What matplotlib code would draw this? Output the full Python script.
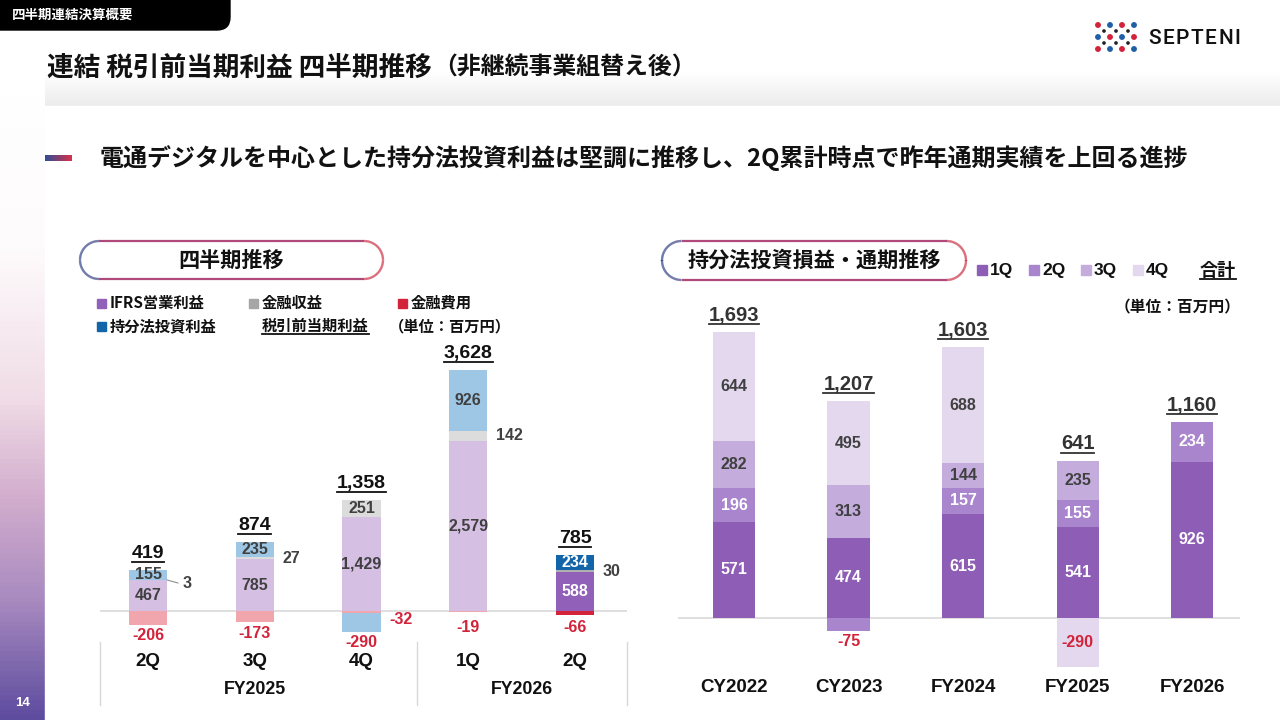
import numpy as np
import matplotlib
matplotlib.use('Agg')
import matplotlib.pyplot as plt
import matplotlib.colors as mcolors
from matplotlib.collections import LineCollection
from matplotlib.patches import Rectangle, FancyBboxPatch

JP = ['Noto Sans CJK JP', 'DejaVu Sans']
NUM = ['Liberation Sans', 'DejaVu Sans']

# ---------------- data ----------------
quarters = ['2Q', '3Q', '4Q', '1Q', '2Q']
fiscal_groups = ['FY2025', 'FY2026']
op_profit = [467, 785, 1429, 2579, 588]        # IFRS営業利益
fin_income = [3, 27, 251, 142, 30]             # 金融収益
equity_income = [155, 235, -290, 926, 234]     # 持分法投資利益
fin_cost = [-206, -173, -32, -19, -66]         # 金融費用
pretax_total = [419, 874, 1358, 3628, 785]     # 税引前当期利益

years = ['CY2022', 'CY2023', 'FY2024', 'FY2025', 'FY2026']
eq_1q = [571, 474, 615, 541, 926]
eq_2q = [196, -75, 157, 155, 234]
eq_3q = [282, 313, 144, 235, None]
eq_4q = [644, 495, 688, -290, None]
eq_total = [1693, 1207, 1603, 641, 1160]

DARK = '#404040'
RED = '#D2233B'
LBL = 11.5

fig = plt.figure(figsize=(12.8, 7.2), dpi=100)
bg = fig.add_axes([0, 0, 1, 1])
bg.axis('off')
bg.set_xlim(0, 1280)
bg.set_ylim(720, 0)
bg.set_autoscale_on(False)

# background
bg.add_patch(Rectangle((0, 0), 1280, 720, color='white', zorder=0))
grad = np.linspace(0, 1, 128).reshape(-1, 1)
cm_top = mcolors.LinearSegmentedColormap.from_list('t', ['#FFFFFF', '#ECECEC'])
bg.imshow(grad, extent=(45, 1280, 106, 72), cmap=cm_top, aspect='auto', zorder=1)
cm_left = mcolors.LinearSegmentedColormap.from_list(
    'l', [(0, '#FFFFFF'), (0.25, '#FEFBFC'), (0.49, '#F0DCE6'), (0.65, '#D2ADCD'),
          (0.81, '#A98BC0'), (1.0, '#5E4C9F')])
bg.imshow(grad, extent=(0, 45, 720, 90), cmap=cm_left, aspect='auto', zorder=1)
bg.add_patch(Rectangle((45, 106), 1235, 614, color='white', zorder=2))

# top tab
bg.add_patch(FancyBboxPatch((-30, -30), 260, 60, boxstyle='round,pad=0,rounding_size=13',
                            color='black', zorder=3))
bg.text(12, 15, '四半期連結決算概要', color='white', fontsize=9.7, fontweight='bold',
        family=JP, va='center', ha='left', zorder=4)

# title
t1 = bg.text(47, 68, '連結 税引前当期利益 四半期推移', fontsize=19.2, fontweight='bold',
             family=JP, va='center', ha='left', zorder=4, color='#111111')
fig.canvas.draw()
bb = t1.get_window_extent()
bg.text(bb.x1 + 1, 68, '（非継続事業組替え後）', fontsize=17.2, fontweight='bold',
        family=JP, va='center', ha='left', zorder=4, color='#111111')

# logo
dot_rows = [(25, ['#D2233B', '#1F5FA8', '#D2233B', '#1F5FA8'], [1098, 1110, 1122, 1134], 18),
            (31, ['#222222'] * 3, [1104, 1116, 1128], 7),
            (37, ['#1F5FA8', '#D2233B', '#1F5FA8', '#D2233B'], [1098, 1110, 1122, 1134], 18),
            (43, ['#222222'] * 3, [1104, 1116, 1128], 7),
            (49, ['#D2233B', '#1F5FA8', '#D2233B', '#1F5FA8'], [1098, 1110, 1122, 1134], 18)]
for yy, cols, xs, s in dot_rows:
    bg.scatter(xs, [yy] * len(xs), c=cols, s=s, zorder=5, linewidths=0)
renderer = fig.canvas.get_renderer()
cx = 1148.0
for ch in 'SEPTENI':
    tt = bg.text(cx, 38, ch, fontsize=15, family=['Roboto', 'DejaVu Sans'],
                 fontweight='medium', va='center', ha='left', zorder=5, color='#111111')
    cx += tt.get_window_extent(renderer).width + 1.6

# subheading
cm_bar = mcolors.LinearSegmentedColormap.from_list('b', ['#2F4F96', '#D8304A'])
bg.imshow(np.linspace(0, 1, 64).reshape(1, -1), extent=(45, 72, 161, 155), cmap=cm_bar,
          aspect='auto', zorder=4)
bg.text(100, 158, '電通デジタルを中心とした持分法投資利益は堅調に推移し、2Q累計時点で昨年通期実績を上回る進捗',
        fontsize=17.3, fontweight='bold', family=JP, va='center', ha='left', zorder=4,
        color='#111111')

# pills
cm_pill = mcolors.LinearSegmentedColormap.from_list('p', ['#33458A', '#B04A7A', '#D03345'])


def pill(x0, y0, x1, y1, label):
    r = (y1 - y0) / 2
    bg.add_patch(FancyBboxPatch((x0, y0), x1 - x0, y1 - y0,
                                boxstyle='round,pad=0,rounding_size=%f' % r,
                                facecolor='white', edgecolor='none', zorder=4))
    pts = []
    n = 200
    for t in np.linspace(-np.pi / 2, np.pi / 2, n):  # right arc
        pts.append((x1 - r + r * np.cos(t), (y0 + y1) / 2 + r * np.sin(t)))
    for t in np.linspace(np.pi / 2, 3 * np.pi / 2, n):  # left arc
        pts.append((x0 + r + r * np.cos(t), (y0 + y1) / 2 + r * np.sin(t)))
    pts.append(pts[0])
    pts = np.array(pts)
    segs = np.stack([pts[:-1], pts[1:]], axis=1)
    xm = (segs[:, 0, 0] + segs[:, 1, 0]) / 2
    cols = cm_pill((xm - x0) / (x1 - x0))
    bg.add_collection(LineCollection(segs, colors=cols, linewidths=1.6, zorder=5))
    bg.text((x0 + x1) / 2, (y0 + y1) / 2, label, fontsize=15.2, fontweight='bold',
            family=JP, va='center', ha='center', zorder=6, color='#111111')


pill(80, 241, 383, 279, '四半期推移')
pill(662, 241, 966, 280, '持分法投資損益・通期推移')

# left legend
legL = [(101, 303, '#9160B8', 'IFRS営業利益'), (253, 303, '#A6A6A6', '金融収益'),
        (402, 303, RED, '金融費用'), (101, 326, '#1265A8', '持分法投資利益')]
for x, y, c, lab in legL:
    bg.add_patch(Rectangle((x - 4.5, y - 4.5), 9, 9, color=c, zorder=5))
    bg.text(x + 9, y, lab, fontsize=11, fontweight='bold', family=JP, va='center',
            ha='left', zorder=5, color='#111111')
ul_texts = []
ul_texts.append(bg.text(262, 326, '税引前当期利益', fontsize=11, fontweight='bold', family=JP,
                        va='center', ha='left', zorder=5, color='#111111'))
bg.text(389, 326, '（単位：百万円）', fontsize=11, fontweight='bold', family=JP,
        va='center', ha='left', zorder=5, color='#111111')

# right legend
qcols = ['#8E5DB5', '#A985CD', '#C4ADDC', '#E4D8EF']
for i, (x, lab) in enumerate(zip([982, 1034, 1086, 1138], ['1Q', '2Q', '3Q', '4Q'])):
    bg.add_patch(Rectangle((x - 5, 265), 10, 10, color=qcols[i], zorder=5))
    bg.text(x + 8, 270, lab, fontsize=12.5, fontweight='bold', family=NUM, va='center',
            ha='left', zorder=5, color='#111111')
ul_texts.append(bg.text(1218, 270, '合計', fontsize=13, fontweight='bold', family=JP,
                        va='center', ha='center', zorder=5, color='#111111'))
bg.text(1241, 307, '（単位：百万円）', fontsize=11.3, fontweight='bold', family=JP,
        va='center', ha='right', zorder=5, color='#111111')

bg.text(23, 703, '14', fontsize=9.5, fontweight='bold', family=NUM, color='white',
        va='center', ha='center', zorder=5)

# ---------------- left chart ----------------
S_L = 0.0661
BASE_L = 611
axL = fig.add_axes([100 / 1280, 1 - 710 / 720, 527 / 1280, 420 / 720])
axL.patch.set_alpha(0)
axL.set_xlim(-0.45, 4.487)
axL.set_ylim(-(710 - BASE_L) / S_L, (BASE_L - 290) / S_L)
axL.axis('off')


def ly(py):
    return (BASE_L - py) / S_L


def lx(px):
    return -0.45 + (px - 100) / 527 * 4.937


wL = 0.36
pale = {'op': '#D5C0E3', 'inc': '#DCDCDC', 'eq': '#9DC7E4', 'cost': '#F1A6AE'}
strong = {'op': '#9160B8', 'inc': '#B0B0B0', 'eq': '#1265A8', 'cost': RED}
x_l = np.arange(len(quarters))
axL.axhline(0, color='#D9D9D9', lw=1.2, zorder=1)
for i in range(len(quarters)):
    hl = (i == len(quarters) - 1)
    C = strong if hl else pale
    tc = 'white' if hl else DARK
    xi = x_l[i]
    pos = 0
    axL.bar(xi, op_profit[i], wL, bottom=pos, color=C['op'], zorder=2)
    axL.text(xi, pos + op_profit[i] / 2, f'{op_profit[i]:,}', ha='center', va='center',
             fontsize=LBL, fontweight='bold', family=NUM, color=tc, zorder=4)
    pos += op_profit[i]
    axL.bar(xi, fin_income[i], wL, bottom=pos, color=C['inc'], zorder=2)
    mid = pos + fin_income[i] / 2
    if fin_income[i] * S_L >= 12:
        axL.text(xi, mid, f'{fin_income[i]:,}', ha='center', va='center', fontsize=LBL,
                 fontweight='bold', family=NUM, color=DARK, zorder=4)
    elif fin_income[i] * S_L < 1:
        axL.plot([xi + wL / 2, xi + wL / 2 + 0.1], [mid, ly(583)], color='#909090', lw=0.8,
                 zorder=3)
        axL.text(xi + wL / 2 + 0.14, ly(583), f'{fin_income[i]:,}', ha='left', va='center',
                 fontsize=LBL, fontweight='bold', family=NUM, color=DARK, zorder=4)
    else:
        axL.text(xi + wL / 2 + 0.08, mid, f'{fin_income[i]:,}', ha='left', va='center',
                 fontsize=LBL, fontweight='bold', family=NUM, color=DARK, zorder=4)
    pos += fin_income[i]
    neg = 0
    axL.bar(xi, fin_cost[i], wL, bottom=neg, color=C['cost'], zorder=2)
    neg += fin_cost[i]
    if equity_income[i] > 0:
        axL.bar(xi, equity_income[i], wL, bottom=pos, color=C['eq'], zorder=2)
        axL.text(xi, pos + equity_income[i] / 2, f'{equity_income[i]:,}', ha='center',
                 va='center', fontsize=LBL, fontweight='bold', family=NUM,
                 color='white' if hl else DARK, zorder=4)
        pos += equity_income[i]
        ybot_px = BASE_L - neg * S_L
        axL.text(xi, ly(max(ybot_px + 11, 627)), f'{fin_cost[i]:,}', ha='center',
                 va='center', fontsize=LBL, fontweight='bold', family=NUM, color=RED, zorder=4)
    else:
        axL.bar(xi, equity_income[i], wL, bottom=neg, color=C['eq'], zorder=2)
        neg += equity_income[i]
        axL.text(xi + wL / 2 + 0.08, ly(BASE_L + 9), f'{fin_cost[i]:,}', ha='left',
                 va='center', fontsize=LBL, fontweight='bold', family=NUM, color=RED, zorder=4)
        ybot_px = BASE_L - neg * S_L
        axL.text(xi, ly(ybot_px + 10), f'{equity_income[i]:,}', ha='center', va='center',
                 fontsize=LBL, fontweight='bold', family=NUM, color=RED, zorder=4)
    top_px = BASE_L - pos * S_L
    ul_texts.append(axL.text(xi, ly(top_px - 16), f'{pretax_total[i]:,}', ha='center',
                             va='center', fontsize=14, fontweight='bold', family=NUM,
                             color='#111111', zorder=4))
    axL.text(xi, ly(662), quarters[i], ha='center', va='center', fontsize=13.5,
             fontweight='bold', family=NUM, color='#111111')

for gx in [100, 417, 627]:
    axL.plot([lx(gx), lx(gx)], [ly(642), ly(705)], color='#D9D9D9', lw=1, clip_on=False)
axL.text((x_l[0] + x_l[2]) / 2, ly(690), fiscal_groups[0], ha='center', va='center',
         fontsize=12.8, fontweight='bold', family=NUM, color='#111111')
axL.text((x_l[3] + x_l[4]) / 2, ly(690), fiscal_groups[1], ha='center', va='center',
         fontsize=12.8, fontweight='bold', family=NUM, color='#111111')

# ---------------- right chart ----------------
S_R = 0.1689
BASE_R = 618
axR = fig.add_axes([678 / 1280, 1 - 710 / 720, 562 / 1280, 420 / 720])
axR.patch.set_alpha(0)
axR.set_xlim(-0.489, 4.419)
axR.set_ylim(-(710 - BASE_R) / S_R, (BASE_R - 290) / S_R)
axR.axis('off')


def ry(py):
    return (BASE_R - py) / S_R


wR = 0.367
x_r = np.arange(len(years))
axR.axhline(0, color='#D9D9D9', lw=1.2, zorder=1)
series = [eq_1q, eq_2q, eq_3q, eq_4q]
lab_cols = ['white', 'white', DARK, DARK]
for i in range(len(years)):
    xi = x_r[i]
    pos, neg = 0, 0
    for q in range(4):
        v = series[q][i]
        if v is None:
            continue
        if v >= 0:
            axR.bar(xi, v, wR, bottom=pos, color=qcols[q], zorder=2)
            axR.text(xi, pos + v / 2, f'{v:,}', ha='center', va='center', fontsize=LBL,
                     fontweight='bold', family=NUM, color=lab_cols[q], zorder=4)
            pos += v
        else:
            axR.bar(xi, v, wR, bottom=neg, color=qcols[q], zorder=2)
            if -v * S_R >= 20:
                yl = neg + v / 2
            else:
                yl = ry(BASE_R - (neg + v) * S_R + 11)
            axR.text(xi, yl, f'{v:,}', ha='center', va='center', fontsize=LBL,
                     fontweight='bold', family=NUM, color=RED, zorder=4)
            neg += v
    top_px = BASE_R - pos * S_R
    ul_texts.append(axR.text(xi, ry(top_px - 17), f'{eq_total[i]:,}', ha='center',
                             va='center', fontsize=14.5, fontweight='bold', family=NUM,
                             color='#333333', zorder=4))
    axR.text(xi, ry(688), years[i], ha='center', va='center', fontsize=13.5,
             fontweight='bold', family=NUM, color='#111111')

# underlines
fig.canvas.draw()
for t in ul_texts:
    b = t.get_window_extent()
    yy = 720 - b.y0 - 0.5
    bg.plot([b.x0, b.x1], [yy, yy], color=t.get_color(), lw=1.3, zorder=6)

fig.savefig('out.png', dpi=100)
